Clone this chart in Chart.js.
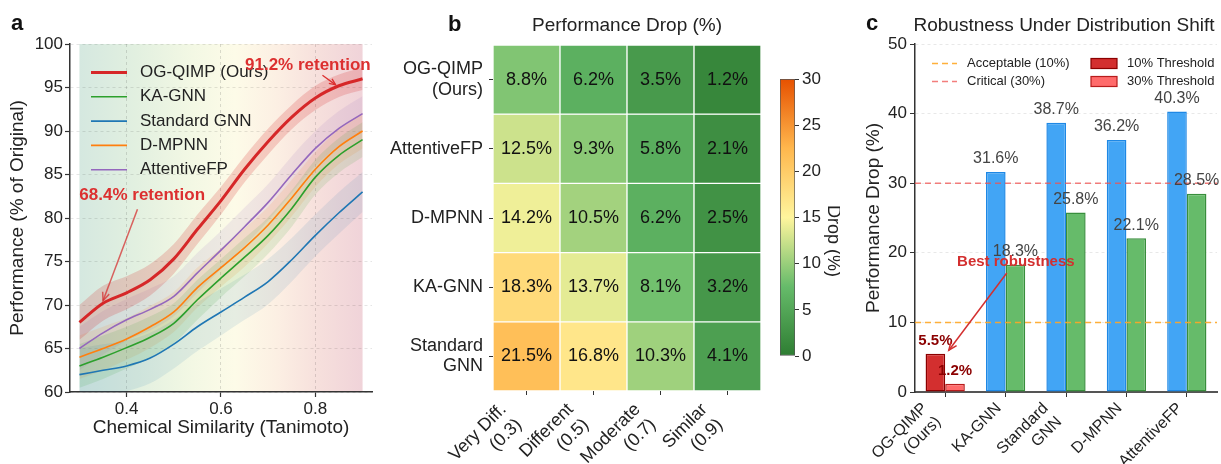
<!DOCTYPE html>
<html>
<head>
<meta charset="utf-8">
<script src="https://cdn.jsdelivr.net/npm/chart.js@4.4.1/dist/chart.umd.min.js"></script>
<style>
  body { margin: 0; background: #fff; width: 1221px; height: 464px; overflow: hidden; position: relative; }
  canvas { position: absolute; top: 0; }
</style>
</head>
<body>
<canvas id="chartA" width="380" height="464" style="left:0"></canvas>
<canvas id="chartB" width="390" height="464" style="left:380px"></canvas>
<canvas id="chartCb" width="70" height="464" style="left:770px"></canvas>
<canvas id="chartC" width="381" height="464" style="left:840px"></canvas>
<script>
// ---- panel a: performance vs. similarity ----
const similarity = [0.30, 0.35, 0.40, 0.45, 0.50, 0.55, 0.60, 0.65, 0.70, 0.75, 0.80, 0.85, 0.90];
const perfOGQIMP = [68.0, 70.2, 71.4, 72.9, 75.3, 78.7, 82.0, 85.6, 88.8, 91.6, 93.8, 95.2, 96.0];
const perfKAGNN  = [63.0, 64.0, 65.1, 66.3, 67.9, 70.6, 73.1, 75.5, 78.0, 81.1, 84.7, 87.2, 89.0];
const perfStdGNN = [62.0, 62.5, 63.0, 63.9, 65.5, 67.5, 69.2, 70.9, 72.7, 75.2, 78.0, 80.6, 83.0];
const perfDMPNN  = [64.0, 65.0, 66.1, 67.5, 69.2, 72.0, 74.3, 76.6, 79.2, 82.3, 85.6, 88.2, 90.0];
const perfAttFP  = [65.0, 66.8, 68.3, 69.5, 71.0, 73.7, 76.3, 79.0, 81.8, 85.0, 88.0, 90.3, 92.0];
// half-width of the shaded bands
const bandOGQIMP   = [2.0, 2.0, 1.9, 1.8, 1.7, 1.7, 1.6, 1.5, 1.5, 1.4, 1.4, 1.3, 1.3];
const bandBaseline = [2.5, 2.5, 2.4, 2.4, 2.3, 2.3, 2.2, 2.2, 2.1, 2.1, 2.0, 2.0, 2.0];
const bandStdGNN   = [3.0, 3.0, 2.9, 2.9, 2.8, 2.8, 2.7, 2.6, 2.6, 2.5, 2.4, 2.4, 2.3];
const xTicksA = [0.4, 0.6, 0.8];

// ---- panel b: performance drop heatmap ----
const simLevels = [['Very Diff.', '(0.3)'], ['Different', '(0.5)'], ['Moderate', '(0.7)'], ['Similar', '(0.9)']];
const heatModels = [['OG-QIMP', '(Ours)'], 'AttentiveFP', 'D-MPNN', 'KA-GNN', ['Standard', 'GNN']];
const dropOGQIMP = [8.8, 6.2, 3.5, 1.2];
const dropAttFP  = [12.5, 9.3, 5.8, 2.1];
const dropDMPNN  = [14.2, 10.5, 6.2, 2.5];
const dropKAGNN  = [18.3, 13.7, 8.1, 3.2];
const dropStdGNN = [21.5, 16.8, 10.3, 4.1];
const dropRows = [dropOGQIMP, dropAttFP, dropDMPNN, dropKAGNN, dropStdGNN];
const colorbarRange = [0, 30];

// ---- panel c: robustness bars ----
const robustModels = [['OG-QIMP', '(Ours)'], 'KA-GNN', ['Standard', 'GNN'], 'D-MPNN', 'AttentiveFP'];
const dropAt10 = [5.5, 31.6, 38.7, 36.2, 40.3];
const dropAt30 = [1.2, 18.3, 25.8, 22.1, 28.5];
const acceptableLevel = 10;
const criticalLevel = 30;

const FONT = '"Liberation Sans", Arial, Helvetica, sans-serif';
Chart.defaults.font.family = FONT;
Chart.defaults.font.size = 17;
Chart.defaults.color = '#222';
Chart.defaults.animation = false;
Chart.defaults.plugins.legend.display = false;
Chart.defaults.plugins.tooltip.enabled = false;

const cmapStops = ['#2e7d32', '#66bb6a', '#fff59d', '#ffb74d', '#e65100'];
function hexRgb(h) { return [1, 3, 5].map(i => parseInt(h.slice(i, i + 2), 16)); }
function cmap(v) {
  const t = Math.min(Math.max((v - colorbarRange[0]) / (colorbarRange[1] - colorbarRange[0]), 0), 1) * 4;
  const i = Math.min(Math.floor(t), 3), f = t - i;
  const a = hexRgb(cmapStops[i]), b = hexRgb(cmapStops[i + 1]);
  return 'rgb(' + a.map((c, k) => Math.round(c + (b[k] - c) * f)).join(',') + ')';
}
function rgba(hex, al) { return 'rgba(' + hexRgb(hex).join(',') + ',' + al + ')'; }

function put(ctx, str, x, y, font, color, align = 'center', baseline = 'middle') {
  ctx.save();
  ctx.font = font; ctx.fillStyle = color; ctx.textAlign = align; ctx.textBaseline = baseline;
  ctx.fillText(str, x, y);
  ctx.restore();
}

function arrow(ctx, x0, y0, x1, y1, color, width, head = 9) {
  const a = Math.atan2(y1 - y0, x1 - x0);
  ctx.save();
  ctx.strokeStyle = color; ctx.lineWidth = width;
  ctx.beginPath(); ctx.moveTo(x0, y0); ctx.lineTo(x1, y1); ctx.stroke();
  ctx.beginPath();
  ctx.moveTo(x1 - head * Math.cos(a - 0.4), y1 - head * Math.sin(a - 0.4));
  ctx.lineTo(x1, y1);
  ctx.lineTo(x1 - head * Math.cos(a + 0.4), y1 - head * Math.sin(a + 0.4));
  ctx.stroke();
  ctx.restore();
}

// matplotlib-like 45° labels: box right edge on the tick, top just under the axis
function rotatedTicks(chart, labels, size, gap) {
  const { ctx, scales: { x }, chartArea } = chart;
  const lh = size * 1.2;
  ctx.save();
  ctx.font = size + 'px ' + FONT;
  ctx.fillStyle = '#222'; ctx.textAlign = 'right'; ctx.textBaseline = 'middle';
  labels.forEach((lab, i) => {
    const lines = [].concat(lab);
    const W = Math.max(...lines.map(l => ctx.measureText(l).width));
    const H = lines.length * lh;
    const e = (W + H) / 2 * Math.SQRT1_2;
    ctx.save();
    ctx.translate(x.getPixelForTick(i) - e, chartArea.bottom + gap + e);
    ctx.rotate(-Math.PI / 4);
    lines.forEach((l, k) => ctx.fillText(l, W / 2, -H / 2 + lh * (k + 0.5)));
    ctx.restore();
  });
  ctx.restore();
}

// ================= panel a =================
const seriesA = [
  { label: 'OG-QIMP (Ours)', values: perfOGQIMP, band: bandOGQIMP, color: '#d62728', width: 3, alpha: 0.2 },
  { label: 'KA-GNN', values: perfKAGNN, band: bandBaseline, color: '#2ca02c', width: 1.6, alpha: 0.12 },
  { label: 'Standard GNN', values: perfStdGNN, band: bandStdGNN, color: '#1f77b4', width: 1.6, alpha: 0.1 },
  { label: 'D-MPNN', values: perfDMPNN, band: bandBaseline, color: '#ff7f0e', width: 1.6, alpha: 0.12 },
  { label: 'AttentiveFP', values: perfAttFP, band: bandBaseline, color: '#9467bd', width: 1.6, alpha: 0.12 }
];
const pts = (vals) => vals.map((v, i) => ({ x: similarity[i], y: v }));

const datasetsA = seriesA.map(s => ({
  data: pts(s.values), borderColor: s.color, borderWidth: s.width,
  pointRadius: 0, fill: false, cubicInterpolationMode: 'monotone'
}));
seriesA.forEach(s => {
  const upperIdx = datasetsA.length;
  datasetsA.push({
    data: pts(s.values.map((v, i) => v + s.band[i])), borderColor: 'transparent', borderWidth: 0,
    pointRadius: 0, fill: false, cubicInterpolationMode: 'monotone'
  });
  datasetsA.push({
    data: pts(s.values.map((v, i) => v - s.band[i])), borderColor: 'transparent', borderWidth: 0,
    pointRadius: 0, fill: upperIdx, backgroundColor: rgba(s.color, s.alpha), cubicInterpolationMode: 'monotone'
  });
});

const bgStops = [[0, '#d5e8e0'], [0.2, '#e2f0e0'], [0.4, '#f3f8e4'], [0.55, '#fdfbe8'],
                 [0.7, '#fcefe3'], [0.85, '#f6dfdc'], [1, '#f0d3d9']];

const panelA = {
  id: 'panelA',
  beforeDraw(chart) {
    const { ctx, chartArea: a, scales: { x } } = chart;
    const x0 = x.getPixelForValue(similarity[0]);
    const x1 = x.getPixelForValue(similarity[similarity.length - 1]);
    const g = ctx.createLinearGradient(x0, 0, x1, 0);
    bgStops.forEach(([t, c]) => g.addColorStop(t, c));
    ctx.save(); ctx.fillStyle = g; ctx.fillRect(x0, a.top, x1 - x0, a.bottom - a.top); ctx.restore();
  },
  afterDatasetsDraw(chart) {
    const { ctx, scales: { x, y } } = chart;
    // legend
    seriesA.forEach((s, i) => {
      const yy = 72.5 + i * 24.3;
      ctx.save(); ctx.strokeStyle = s.color; ctx.lineWidth = s.width;
      ctx.beginPath(); ctx.moveTo(91, yy); ctx.lineTo(127, yy); ctx.stroke(); ctx.restore();
      put(ctx, s.label, 140, yy, '17px ' + FONT, '#222', 'left');
    });
    // annotations
    const red = '#dc3030';
    put(ctx, '91.2% retention', x.getPixelForValue(0.784), y.getPixelForValue(97.6), 'bold 17px ' + FONT, red);
    arrow(ctx, x.getPixelForValue(0.815), y.getPixelForValue(96.4), x.getPixelForValue(0.843), y.getPixelForValue(95.3), red, 1.3, 7);
    put(ctx, '68.4% retention', x.getPixelForValue(0.433), y.getPixelForValue(82.6), 'bold 17px ' + FONT, red);
    arrow(ctx, x.getPixelForValue(0.423), y.getPixelForValue(81.0), x.getPixelForValue(0.35), y.getPixelForValue(70.5), 'rgba(214,50,50,0.75)', 1.5, 9);
  },
  afterDraw(chart) {
    put(chart.ctx, 'a', 11, 30, 'bold 22px ' + FONT, '#111', 'left', 'alphabetic');
  }
};

new Chart(document.getElementById('chartA'), {
  type: 'line',
  data: { datasets: datasetsA },
  options: {
    responsive: false,
    devicePixelRatio: 1,
    layout: { padding: { top: 44, right: 8, bottom: 0, left: 0 } },
    scales: {
      x: {
        type: 'linear', min: 0.28, max: 0.92,
        afterBuildTicks: s => { s.ticks = xTicksA.map(v => ({ value: v })); },
        afterFit: s => { s.height = 72; },
        ticks: { callback: v => v.toFixed(1), padding: 2, color: '#222' },
        grid: { color: 'rgba(0,0,0,0.13)', tickLength: 5, tickColor: '#333', tickWidth: 1.2 },
        border: { color: '#333', width: 1.5, dash: [3, 3] },
        title: { display: true, text: 'Chemical Similarity (Tanimoto)', font: { size: 19 }, color: '#222', padding: { top: 0, bottom: 25 } }
      },
      y: {
        min: 60, max: 100,
        afterFit: s => { s.width = 70; },
        ticks: { stepSize: 5, padding: 2, color: '#222' },
        grid: { color: 'rgba(0,0,0,0.1)', tickLength: 5, tickColor: '#333', tickWidth: 1.2 },
        border: { color: '#333', width: 1.5, dash: [3, 3] },
        title: { display: true, text: 'Performance (% of Original)', font: { size: 19 }, color: '#222', padding: { top: 6, bottom: 0 } }
      }
    }
  },
  plugins: [panelA]
});

// ================= panel b =================
const panelB = {
  id: 'panelB',
  afterDatasetsDraw(chart) {
    const { ctx } = chart;
    chart.data.datasets.forEach((ds, r) => {
      chart.getDatasetMeta(r).data.forEach((el, c) => {
        put(ctx, ds.drops[c].toFixed(1) + '%', el.x, (el.y + el.base) / 2, '18px ' + FONT, '#111');
      });
    });
  },
  afterDraw(chart) {
    const { ctx } = chart;
    rotatedTicks(chart, simLevels, 18, 8);
    put(ctx, 'b', 68, 31, 'bold 22px ' + FONT, '#111', 'left', 'alphabetic');
    put(ctx, 'Performance Drop (%)', 247, 31, '19px ' + FONT, '#222', 'center', 'alphabetic');
  }
};

new Chart(document.getElementById('chartB'), {
  type: 'bar',
  data: {
    labels: simLevels,
    datasets: dropRows.map((row, r) => ({
      data: row.map(() => [r, r + 1]),
      drops: row,
      backgroundColor: row.map(cmap),
      borderColor: '#ffffff', borderWidth: 1, borderSkipped: false,
      grouped: false, categoryPercentage: 1, barPercentage: 1
    }))
  },
  options: {
    responsive: false,
    devicePixelRatio: 1,
    layout: { padding: { top: 45, right: 9, bottom: 0, left: 0 } },
    scales: {
      x: {
        type: 'category', offset: true,
        afterFit: s => { s.height = 73; },
        ticks: { display: false },
        grid: { display: true, drawOnChartArea: false, offset: false, tickLength: 4, tickColor: '#333' },
        border: { display: false }
      },
      y: {
        type: 'linear', min: 0, max: heatModels.length, reverse: true,
        afterBuildTicks: s => { s.ticks = heatModels.map((m, i) => ({ value: i + 0.5 })); },
        afterFit: s => { s.width = 113; },
        ticks: { callback: (v, i) => heatModels[i], font: { size: 18, lineHeight: 1.12 }, padding: 6, color: '#222' },
        grid: { drawOnChartArea: false, tickLength: 4, tickColor: '#333' },
        border: { display: false }
      }
    }
  },
  plugins: [panelB]
});

// ---- colorbar ----
const panelCb = {
  id: 'panelCb',
  afterDraw(chart) {
    const { ctx } = chart;
    ctx.save();
    ctx.translate(63, 241);
    ctx.rotate(Math.PI / 2);
    put(ctx, 'Drop (%)', 0, 0, '18px ' + FONT, '#222');
    ctx.restore();
  }
};

new Chart(document.getElementById('chartCb'), {
  type: 'bar',
  data: {
    labels: ['Drop'],
    datasets: [{
      data: [colorbarRange],
      backgroundColor: (c) => {
        const { chart } = c;
        const ys = chart.scales.y;
        if (!ys || !chart.chartArea) return cmapStops[0];
        const g = chart.ctx.createLinearGradient(0, ys.getPixelForValue(colorbarRange[0]), 0, ys.getPixelForValue(colorbarRange[1]));
        cmapStops.forEach((col, i) => g.addColorStop(i / (cmapStops.length - 1), col));
        return g;
      },
      borderColor: '#555', borderWidth: 1, borderSkipped: false,
      categoryPercentage: 1, barPercentage: 1
    }]
  },
  options: {
    responsive: false,
    devicePixelRatio: 1,
    layout: { padding: { top: 79, right: 0, bottom: 108, left: 10 } },
    scales: {
      x: { display: false },
      y: {
        position: 'right', min: colorbarRange[0], max: colorbarRange[1],
        afterFit: s => { s.width = 45; },
        ticks: { stepSize: 5, padding: 3, color: '#222' },
        grid: { drawOnChartArea: false, tickLength: 4, tickColor: '#333' },
        border: { display: false }
      }
    }
  },
  plugins: [panelCb]
});

// ================= panel c =================
const ourIdx = 0;
const panelC = {
  id: 'panelC',
  afterDatasetsDraw(chart) {
    const { ctx, chartArea: a, scales: { x, y } } = chart;
    // threshold lines
    [[acceptableLevel, 'rgba(255,167,38,0.9)'], [criticalLevel, 'rgba(239,83,80,0.75)']].forEach(([lv, col]) => {
      const yy = y.getPixelForValue(lv);
      ctx.save(); ctx.strokeStyle = col; ctx.lineWidth = 1.5; ctx.setLineDash([6, 4]);
      ctx.beginPath(); ctx.moveTo(a.left, yy); ctx.lineTo(a.right, yy); ctx.stroke(); ctx.restore();
    });
    // value labels
    chart.data.datasets.forEach((ds, d) => {
      chart.getDatasetMeta(d).data.forEach((el, i) => {
        const txt = ds.data[i].toFixed(1) + '%';
        if (i === ourIdx) put(ctx, txt, el.x, el.y - 13, 'bold 15px ' + FONT, '#8b0000');
        else put(ctx, txt, el.x, el.y - 13, '16px ' + FONT, '#444');
      });
    });
    // annotation
    put(ctx, 'Best robustness', x.getPixelForValue(1.17), y.getPixelForValue(18.7), 'bold 15px ' + FONT, '#d32f2f');
    arrow(ctx, x.getPixelForValue(1.02), y.getPixelForValue(17.1), x.getPixelForValue(0.06), y.getPixelForValue(6.0), '#d32f2f', 1.5, 9);
    // legend
    const rows = [63.5, 81.5];
    [['Acceptable (10%)', 'rgba(255,167,38,0.9)'], ['Critical (30%)', 'rgba(239,83,80,0.75)']].forEach(([t, col], k) => {
      ctx.save(); ctx.strokeStyle = col; ctx.lineWidth = 1.5; ctx.setLineDash([6, 4]);
      ctx.beginPath(); ctx.moveTo(92, rows[k]); ctx.lineTo(117, rows[k]); ctx.stroke(); ctx.restore();
      put(ctx, t, 127, rows[k], '13px ' + FONT, '#222', 'left');
    });
    chart.data.datasets.forEach((ds, k) => {
      ctx.save(); ctx.fillStyle = ds.backgroundColor[ourIdx]; ctx.strokeStyle = ds.borderColor[ourIdx]; ctx.lineWidth = 1.2;
      ctx.fillRect(251, rows[k] - 5, 26, 10); ctx.strokeRect(251, rows[k] - 5, 26, 10); ctx.restore();
      put(ctx, ds.label, 287, rows[k], '13px ' + FONT, '#222', 'left');
    });
  },
  afterDraw(chart) {
    const { ctx } = chart;
    rotatedTicks(chart, robustModels, 16, 7);
    put(ctx, 'c', 26, 30, 'bold 22px ' + FONT, '#111', 'left', 'alphabetic');
    put(ctx, 'Robustness Under Distribution Shift', 224, 31, '19px ' + FONT, '#222', 'center', 'alphabetic');
  }
};

new Chart(document.getElementById('chartC'), {
  type: 'bar',
  data: {
    labels: robustModels,
    datasets: [
      {
        label: '10% Threshold', data: dropAt10,
        backgroundColor: dropAt10.map((v, i) => i === ourIdx ? '#d32f2f' : '#42a5f5'),
        borderColor: dropAt10.map((v, i) => i === ourIdx ? '#8b0000' : '#1e88e5'),
        borderWidth: 1.5, borderSkipped: false, categoryPercentage: 0.65, barPercentage: 1
      },
      {
        label: '30% Threshold', data: dropAt30,
        backgroundColor: dropAt30.map((v, i) => i === ourIdx ? '#ff6b6b' : '#66bb6a'),
        borderColor: dropAt30.map((v, i) => i === ourIdx ? '#b71c1c' : '#388e3c'),
        borderWidth: 1.5, borderSkipped: false, categoryPercentage: 0.65, barPercentage: 1
      }
    ]
  },
  options: {
    responsive: false,
    devicePixelRatio: 1,
    layout: { padding: { top: 44, right: 4, bottom: 0, left: 0 } },
    scales: {
      x: {
        type: 'category',
        afterFit: s => { s.height = 72; },
        ticks: { display: false },
        grid: { display: true, drawOnChartArea: false, offset: false, tickLength: 5, tickColor: '#333' },
        border: { color: '#555', width: 2 }
      },
      y: {
        min: 0, max: 50,
        afterFit: s => { s.width = 75; },
        ticks: { stepSize: 10, padding: 3, color: '#222' },
        grid: { color: 'rgba(0,0,0,0.09)', tickLength: 5, tickColor: '#333' },
        border: { color: '#333', width: 1.5, dash: [3, 3] },
        title: { display: true, text: 'Performance Drop (%)', font: { size: 19 }, color: '#222', padding: { top: 22, bottom: 0 } }
      }
    }
  },
  plugins: [panelC]
});
</script>
</body>
</html>
